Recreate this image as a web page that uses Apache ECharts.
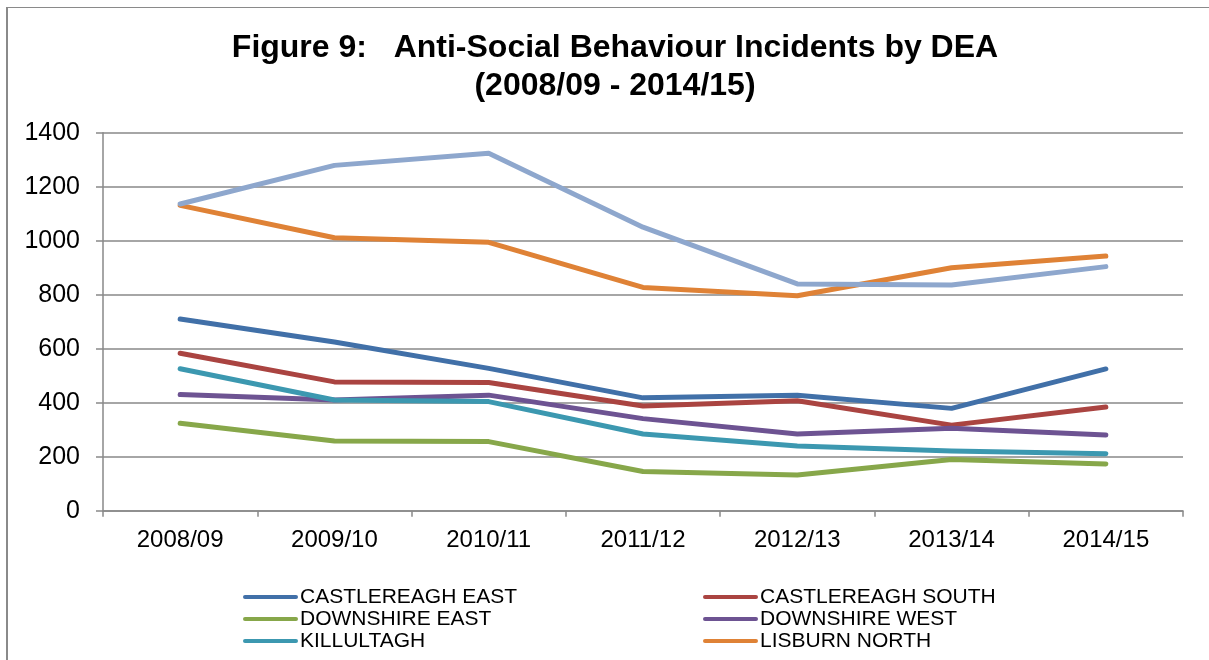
<!DOCTYPE html>
<html>
<head>
<meta charset="utf-8">
<title>Anti-Social Behaviour Incidents by DEA</title>
<script src="https://cdn.jsdelivr.net/npm/echarts@6/dist/echarts.min.js"></script>
<style>
  html, body { margin: 0; padding: 0; background: #ffffff; }
  #chart { width: 1209px; height: 660px; }
</style>
</head>
<body>
<div id="chart"></div>
<script>
// Financial years on the category axis
const years = ['2008/09', '2009/10', '2010/11', '2011/12', '2012/13', '2013/14', '2014/15'];

// Incidents per District Electoral Area
const castlereaghEast  = [710, 625, 527, 418, 428, 379, 525];
const castlereaghSouth = [583, 477, 475, 388, 407, 317, 384];
const downshireEast    = [324, 258, 256, 145, 132, 190, 173];
const downshireWest    = [430, 410, 428, 341, 284, 305, 280];
const killultagh       = [526, 410, 404, 284, 240, 221, 211];
const lisburnNorth     = [1131, 1011, 994, 827, 796, 900, 943];
const lisburnSouth     = [1136, 1279, 1324, 1050, 840, 836, 904];

// Value axis ticks
const yTicks = [0, 200, 400, 600, 800, 1000, 1200, 1400];

const seriesDefs = [
  { name: 'CASTLEREAGH EAST',  data: castlereaghEast,  color: '#4170A8' },
  { name: 'CASTLEREAGH SOUTH', data: castlereaghSouth, color: '#AA4441' },
  { name: 'DOWNSHIRE EAST',    data: downshireEast,    color: '#87A74A' },
  { name: 'DOWNSHIRE WEST',    data: downshireWest,    color: '#6D5392' },
  { name: 'KILLULTAGH',        data: killultagh,       color: '#3C98B0' },
  { name: 'LISBURN NORTH',     data: lisburnNorth,     color: '#DF8236' },
  { name: 'LISBURN SOUTH',     data: lisburnSouth,     color: '#8EA7CD' }
];

const chart = echarts.init(document.getElementById('chart'), null, { renderer: 'canvas' });

const font = "'Liberation Sans', Arial, sans-serif";
const axisGrey = '#898989';

// Legend swatch: a short thick bar with rounded ends
const swatch = 'path://M2,0 L53,0 A2,2 0 0 1 53,4 L2,4 A2,2 0 0 1 2,0 Z';

const legendCommon = {
  orient: 'vertical',
  top: 581,
  icon: swatch,
  itemWidth: 55,
  itemHeight: 5,
  itemGap: 0,
  selectedMode: false,
  textStyle: { fontFamily: font, fontSize: 21, color: '#000', lineHeight: 22, padding: [0, 0, 0, -3] }
};

const option = {
  backgroundColor: '#ffffff',
  animation: false,
  title: {
    text: 'Figure 9:   Anti-Social Behaviour Incidents by DEA\n(2008/09 - 2014/15)',
    left: 610,
    top: 24,
    textAlign: 'center',
    textStyle: { fontFamily: font, fontSize: 32, fontWeight: 'bold', color: '#000', lineHeight: 38 }
  },
  legend: [
    Object.assign({}, legendCommon, { left: 238, data: ['CASTLEREAGH EAST', 'DOWNSHIRE EAST', 'KILLULTAGH'] }),
    Object.assign({}, legendCommon, { left: 698, data: ['CASTLEREAGH SOUTH', 'DOWNSHIRE WEST', 'LISBURN NORTH'] })
  ],
  grid: { left: 103, right: 26, top: 132.7, bottom: 149.3, containLabel: false },
  xAxis: {
    type: 'category',
    data: years,
    boundaryGap: true,
    axisLine: { lineStyle: { color: axisGrey, width: 1.5 } },
    axisTick: { show: true, length: 6, lineStyle: { color: axisGrey, width: 1.5 } },
    axisLabel: { fontFamily: font, fontSize: 24, color: '#000', margin: 18 },
    splitLine: { show: false }
  },
  yAxis: {
    type: 'value',
    min: 0,
    max: 1400,
    interval: 200,
    axisLine: { show: true, lineStyle: { color: axisGrey, width: 1.5 } },
    axisTick: { show: true, length: 7, lineStyle: { color: axisGrey, width: 1.5 } },
    axisLabel: {
      fontFamily: font, fontSize: 25, color: '#000', margin: 23,
      formatter: v => (yTicks.includes(v) ? String(v) : '')
    },
    splitLine: { lineStyle: { color: axisGrey, width: 1.5 } }
  },
  series: seriesDefs.map(s => ({
    name: s.name,
    type: 'line',
    data: s.data,
    symbol: 'none',
    showSymbol: false,
    color: s.color,
    itemStyle: { color: s.color },
    lineStyle: { color: s.color, width: 5, cap: 'round', join: 'round' },
    emphasis: { disabled: true }
  })),
  graphic: [
    // outer frame of the figure
    { type: 'line', shape: { x1: 6, y1: 7.5, x2: 1209, y2: 7.5 }, style: { stroke: '#8a8a8a', lineWidth: 1.2 }, silent: true },
    { type: 'line', shape: { x1: 7, y1: 7, x2: 7, y2: 660 }, style: { stroke: '#8a8a8a', lineWidth: 2 }, silent: true }
  ]
};

chart.setOption(option);
</script>
</body>
</html>
